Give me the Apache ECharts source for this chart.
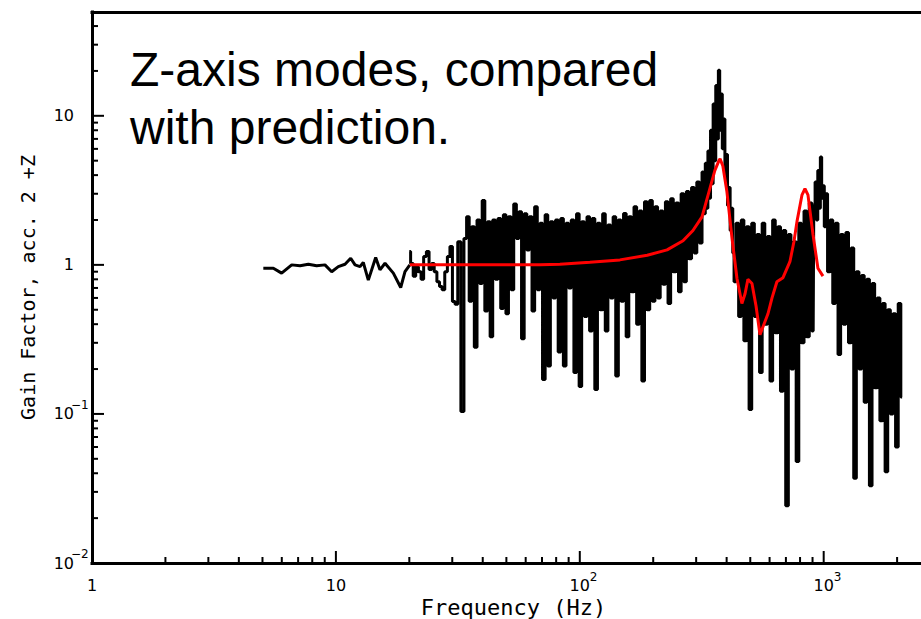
<!DOCTYPE html>
<html><head><meta charset="utf-8">
<script src="https://cdn.jsdelivr.net/npm/echarts@6/dist/echarts.min.js"></script>
<style>html,body{margin:0;padding:0;background:#fff}#c{width:921px;height:619px}</style>
</head><body><div id="c"></div>
<script>
// Low-frequency measurement (Hz, gain)
const lowFreqData = [
  [5.04,0.95],[5.54,0.95],[5.99,0.88],[6.59,1.0],[7.13,0.985],[7.71,1.01],[8.34,0.985],
  [9.02,1.0],[9.61,0.90],[10.23,0.974],[10.9,1.01],[11.5,1.107],[11.98,1.0],[12.56,0.974],
  [12.95,1.04],[13.58,0.79],[14.56,1.12],[15.16,0.926],[15.9,1.025],[17.2,0.88],[18.44,0.705],
  [19.2,0.90],[20.1,1.0]
];
// Measured gain factor, acc. 2 +Z (Hz, gain)
const measuredData = [
  [20,1.23],[20.5,1.02],[21,0.84],[21.5,0.97],[22.1,0.9],[22.6,0.8],[23.2,1.14],[23.8,1.23],[24.4,0.93],[25,1.02],
  [25.6,0.9],[26.3,0.77],[26.9,0.716],[27.6,0.68],[28.3,0.9],[29,1.14],[29.7,1.33],[30.4,0.568],[31.2,0.545],[32,1.43],
  [33.1,0.104],[33.9,1.5],[34.8,2.1],[35.6,0.57],[36.5,1.8],[37.4,0.28],[38.4,2.0],[39.3,0.75],[40.3,2.7],[41.3,0.49],
  [42.4,1.95],[43.4,0.33],[44.5,2.0],[45.6,0.8],[46.8,2.05],[48,0.51],[49.2,2.17],[50.4,0.47],[51.6,2.1],[52.9,0.68],
  [54.3,2.56],[55.6,1.5],[57,2.27],[58.4,0.32],[59.9,2.2],[61.4,1.26],[62.9,2.1],[64.5,0.49],[66.1,2.45],[67.8,0.68],
  [69.5,1.9],[71.2,0.17],[73,2.17],[74.8,0.21],[76.7,1.95],[78.6,0.6],[80.5,2.0],[82.6,0.26],[84.6,2.05],[86.7,0.21],
  [88.9,1.9],[91.1,0.7],[93.4,2.0],[95.8,0.19],[98.2,2.2],[100.6,0.153],[103,1.95],[105.7,0.45],[108.4,2.1],[111,0.36],
  [113.8,2.05],[116.7,0.146],[119.6,1.9],[122.6,0.5],[125.6,2.2],[128.8,0.36],[132,1.85],[135.3,0.6],[138.7,2.1],[142.1,0.18],
  [145.7,2.0],[149.3,0.57],[153,2.21],[156.9,0.33],[160.8,2.1],[164.8,0.66],[168.9,2.45],[173.2,0.4],[177.5,2.3],[181.9,0.166],
  [186.5,2.65],[191.1,0.5],[195.9,2.7],[200.8,0.57],[205.8,2.45],[211,0.6],[216.3,2.3],[221.7,0.74],[227.2,2.65],[232.9,0.55],
  [238.7,2.78],[244.7,0.9],[250.8,2.6],[257.1,0.66],[263.5,3.0],[270.1,0.77],[276.8,3.1],[283.7,1.1],[290.8,3.3],[298.1,1.2],
  [305.6,3.6],[313.2,1.4],[321,4.2],[325,2.2],[329,4.8],[333,2.4],[337.3,5.8],[341.5,2.8],[345.7,8],[350,3.5],
  [354.3,12],[358.7,5],[363.2,16],[367.7,7],[372.3,20.2],[377,8],[381.6,14],[386.3,6],[391.1,9.5],[396,4],
  [400.9,5.5],[405.9,2.5],[410.9,3.3],[416,1.7],[421.2,2.4],[426.4,1.2],[431.7,0.77],[442.5,1.9],[453.6,0.45],[464.9,2.0],
  [476.5,0.31],[488.4,1.8],[500.6,0.107],[513.2,1.9],[526,0.45],[539.1,1.6],[552.6,0.19],[566.4,1.9],[580.6,0.4],[595.1,1.55],
  [610,0.166],[625.2,2.0],[640.8,0.35],[656.8,1.8],[673.3,0.142],[690.1,1.7],[707.4,0.0242],[725.1,1.6],[743.2,0.2],[761.8,1.43],
  [780.8,0.048],[800.3,1.9],[820.3,0.3],[840.9,2.3],[861.9,0.33],[883.4,2.6],[905.5,0.36],[916,2.5],[928.2,3.6],[940,2.0],
  [951.4,4.3],[963,2.4],[975.2,5.3],[987,2.8],[999.6,3.4],[1012,1.8],[1024.6,3.0],[1050,0.9],[1076,2.0],[1103,0.55],
  [1131,1.9],[1159,0.25],[1188,1.6],[1218,0.4],[1248,1.65],[1280,0.3],[1312,1.3],[1344,0.037],[1378,0.9],[1412,0.2],
  [1448,0.85],[1484,0.12],[1521,0.8],[1559,0.033],[1598,0.75],[1638,0.15],[1679,0.6],[1721,0.09],[1764,0.55],[1808,0.041],
  [1853,0.5],[1900,0.1],[1947,0.47],[1996,0.06],[2046,0.55],[2097,0.13]
];
// Prediction (Hz, gain)
const predictionData = [
  [20.1,1.0],[29.4,1.0],[47.1,1.0],[68.7,1.0],[82.9,1.01],[110,1.04],[146,1.08],[189,1.16],
  [228,1.26],[265,1.45],[291,1.7],[317,2.1],[335,2.9],[358,4.3],[372,5.0],[376,5.14],[386,4.6],
  [401,3.1],[421,1.5],[441,0.81],[462,0.55],[476,0.64],[489,0.8],[508,0.75],[528,0.53],[548,0.34],
  [569,0.40],[591,0.47],[614,0.6],[643,0.77],[681,0.82],[727,1.05],[755,1.43],[777,1.95],
  [815,2.95],[838,3.24],[862,2.95],[904,1.6],[947,0.95],[993,0.84]
];
const xMajorTicks = [1,10,100,1000];
const xMinorTicks = [2,3,4,5,6,7,8,9,20,30,40,50,60,70,80,90,200,300,400,500,600,700,800,900,2000];
const yMajorTicks = [0.01,0.1,1,10];
const yMinorTicks = [0.02,0.03,0.04,0.05,0.06,0.07,0.08,0.09,0.2,0.3,0.4,0.5,0.6,0.7,0.8,0.9,2,3,4,5,6,7,8,9,20,30,40];
const xTickLabels = [['1',''],['10',''],['10','2'],['10','3']];
const yTickLabels = [['10','\u22122'],['10','\u22121'],['1',''],['10','']];
const titleLines = ['Z-axis modes, compared','with prediction.'];
const xAxisName = 'Frequency (Hz)';
const yAxisName = 'Gain Factor, acc. 2 +Z';

const X_MIN = 1, X_MAX = 2506, Y_MIN = 0.01, Y_MAX = 49.7;
const tickFont = '16px "DejaVu Sans"';
const supFont = '12px "DejaVu Sans"';

const chart = echarts.init(document.getElementById('c'), null, {renderer: 'svg'});

function xTickData() {
  return xMajorTicks.map(v => [v, Y_MIN, 1]).concat(xMinorTicks.map(v => [v, Y_MIN, 0]));
}
function yTickData() {
  return yMajorTicks.map(v => [X_MIN, v, 1]).concat(yMinorTicks.map(v => [X_MIN, v, 0]));
}
function renderXTick(params, api) {
  const p = api.coord([api.value(0), Y_MIN]);
  const len = api.value(2) ? 12 : 6;
  return {type: 'line', shape: {x1: p[0], y1: p[1], x2: p[0], y2: p[1] - len},
          style: {stroke: '#000', lineWidth: 2}};
}
function renderYTick(params, api) {
  const p = api.coord([X_MIN, api.value(1)]);
  const len = api.value(2) ? 12 : 6;
  return {type: 'line', shape: {x1: p[0], y1: p[1], x2: p[0] + len, y2: p[1]},
          style: {stroke: '#000', lineWidth: 2}};
}
function renderXLabel(params, api) {
  const p = api.coord([api.value(0), Y_MIN]);
  const lab = xTickLabels[params.dataIndex];
  const children = [{type: 'text', style: {text: lab[0], x: p[0], y: p[1] + 22, font: tickFont,
    textFill: '#000', textAlign: 'center', textVerticalAlign: 'middle'}}];
  if (lab[1]) children.push({type: 'text', style: {text: lab[1], x: p[0] + 10, y: p[1] + 14, font: supFont,
    textFill: '#000', textAlign: 'left', textVerticalAlign: 'middle'}});
  return {type: 'group', children};
}
function renderYLabel(params, api) {
  const p = api.coord([X_MIN, api.value(1)]);
  const lab = yTickLabels[params.dataIndex];
  const children = [{type: 'text', style: {text: lab[0], x: p[0] - 18, y: p[1], font: tickFont,
    textFill: '#000', textAlign: 'right', textVerticalAlign: 'middle'}}];
  if (lab[1]) children.push({type: 'text', style: {text: lab[1], x: p[0] - 21, y: p[1] - 9, font: supFont,
    textFill: '#000', textAlign: 'left', textVerticalAlign: 'middle'}});
  return {type: 'group', children};
}

const axisLineStyle = {show: true, onZero: false, lineStyle: {color: '#000', width: 3, cap: 'square'}};

chart.setOption({
  animation: false,
  backgroundColor: '#fff',
  grid: {left: 92, right: 0, top: 12, bottom: 56, containLabel: false, outerBoundsMode: 'none'},
  xAxis: [{
    type: 'log', logBase: 10, min: X_MIN, max: X_MAX, position: 'bottom',
    axisLine: axisLineStyle, axisTick: {show: false}, axisLabel: {show: false}, splitLine: {show: false},
    name: xAxisName, nameLocation: 'middle', nameGap: 33,
    nameTextStyle: {fontFamily: 'DejaVu Sans Mono', fontSize: 22, color: '#000', padding: [0, 0, 0, 14]}
  }, {
    type: 'log', logBase: 10, min: X_MIN, max: X_MAX, position: 'top',
    axisLine: axisLineStyle, axisTick: {show: false}, axisLabel: {show: false}, splitLine: {show: false}
  }],
  yAxis: {
    type: 'log', logBase: 10, min: Y_MIN, max: Y_MAX,
    axisLine: axisLineStyle, axisTick: {show: false}, axisLabel: {show: false}, splitLine: {show: false},
    name: yAxisName, nameLocation: 'middle', nameGap: 54, nameRotate: 90,
    nameTextStyle: {fontFamily: 'DejaVu Sans Mono', fontSize: 20, color: '#000'}
  },
  graphic: [
    {type: 'text', left: 130, top: 45, style: {text: titleLines[0], font: '48px "Liberation Sans"', fill: '#000'}},
    {type: 'text', left: 130, top: 103, style: {text: titleLines[1], font: '48px "Liberation Sans"', fill: '#000'}}
  ],
  series: [
    {type: 'line', data: lowFreqData, showSymbol: false, lineStyle: {color: '#000', width: 3}, z: 2},
    {type: 'line', data: measuredData, step: 'middle', showSymbol: false, lineStyle: {color: '#000', width: 3}, z: 2},
    {type: 'line', data: predictionData, showSymbol: false, lineStyle: {color: '#ff0000', width: 3}, z: 3},
    {type: 'custom', data: xTickData(), renderItem: renderXTick, encode: {x: 0, y: 1}, clip: false, z: 4, silent: true},
    {type: 'custom', data: yTickData(), renderItem: renderYTick, encode: {x: 0, y: 1}, clip: false, z: 4, silent: true},
    {type: 'custom', data: xMajorTicks.map(v => [v, Y_MIN]), renderItem: renderXLabel, encode: {x: 0, y: 1}, clip: false, z: 4, silent: true},
    {type: 'custom', data: yMajorTicks.map(v => [X_MIN, v]), renderItem: renderYLabel, encode: {x: 0, y: 1}, clip: false, z: 4, silent: true}
  ]
});
</script></body></html>
